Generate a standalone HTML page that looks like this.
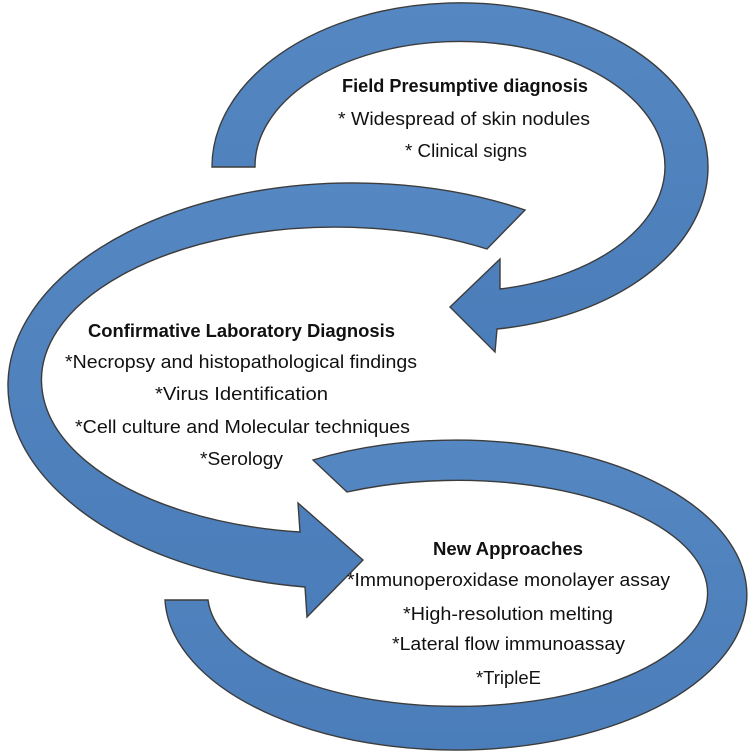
<!DOCTYPE html>
<html><head><meta charset="utf-8"><style>
html,body{margin:0;padding:0;background:#fff;}
svg{display:block}
text{font-family:"Liberation Sans",sans-serif;font-size:18px;fill:#111;}
.b{font-weight:bold}
</style></head><body>
<svg width="750" height="752" viewBox="0 0 750 752" xmlns="http://www.w3.org/2000/svg">
<defs>
<linearGradient id="g" x1="0" y1="0" x2="0" y2="1">
<stop offset="0" stop-color="#5587c2"/><stop offset="1" stop-color="#4a7db9"/>
</linearGradient>
</defs>
<g fill="url(#g)" stroke="#3c3c3c" stroke-width="1.4" stroke-linejoin="miter">
<path d="M212,167 A248,164 0 1 1 497,329 L495,352 L450,307 L500,259 L500,289 A205,125 0 1 0 255,167 Z"/>
<path d="M525,210 A345,203 0 1 0 305,587 L307,617 L363,560 L298,503 L300,532 A294,153 0 1 1 487,249 Z"/>
<path d="M313,460 A291,155 0 1 1 165,600 L208,600 A250,113 0 1 0 347,492 Z"/>
</g>
<text class="b" x="342" y="92" textLength="246" lengthAdjust="spacingAndGlyphs">Field Presumptive diagnosis</text>
<text x="338" y="125" textLength="252" lengthAdjust="spacingAndGlyphs">* Widespread of skin nodules</text>
<text x="405" y="157" textLength="122" lengthAdjust="spacingAndGlyphs">* Clinical signs</text>

<text class="b" x="88" y="337" textLength="307" lengthAdjust="spacingAndGlyphs">Confirmative Laboratory Diagnosis</text>
<text x="65" y="368" textLength="352" lengthAdjust="spacingAndGlyphs">*Necropsy and histopathological findings</text>
<text x="155" y="400" textLength="173" lengthAdjust="spacingAndGlyphs">*Virus Identification</text>
<text x="75" y="433" textLength="335" lengthAdjust="spacingAndGlyphs">*Cell culture and Molecular techniques</text>
<text x="200" y="465" textLength="83" lengthAdjust="spacingAndGlyphs">*Serology</text>

<text class="b" x="433" y="555" textLength="150" lengthAdjust="spacingAndGlyphs">New Approaches</text>
<text x="347" y="586" textLength="323" lengthAdjust="spacingAndGlyphs">*Immunoperoxidase monolayer assay</text>
<text x="403" y="620" textLength="210" lengthAdjust="spacingAndGlyphs">*High-resolution melting</text>
<text x="392" y="650" textLength="233" lengthAdjust="spacingAndGlyphs">*Lateral flow immunoassay</text>
<text x="476" y="684" textLength="65" lengthAdjust="spacingAndGlyphs">*TripleE</text>
</svg>
</body></html>
